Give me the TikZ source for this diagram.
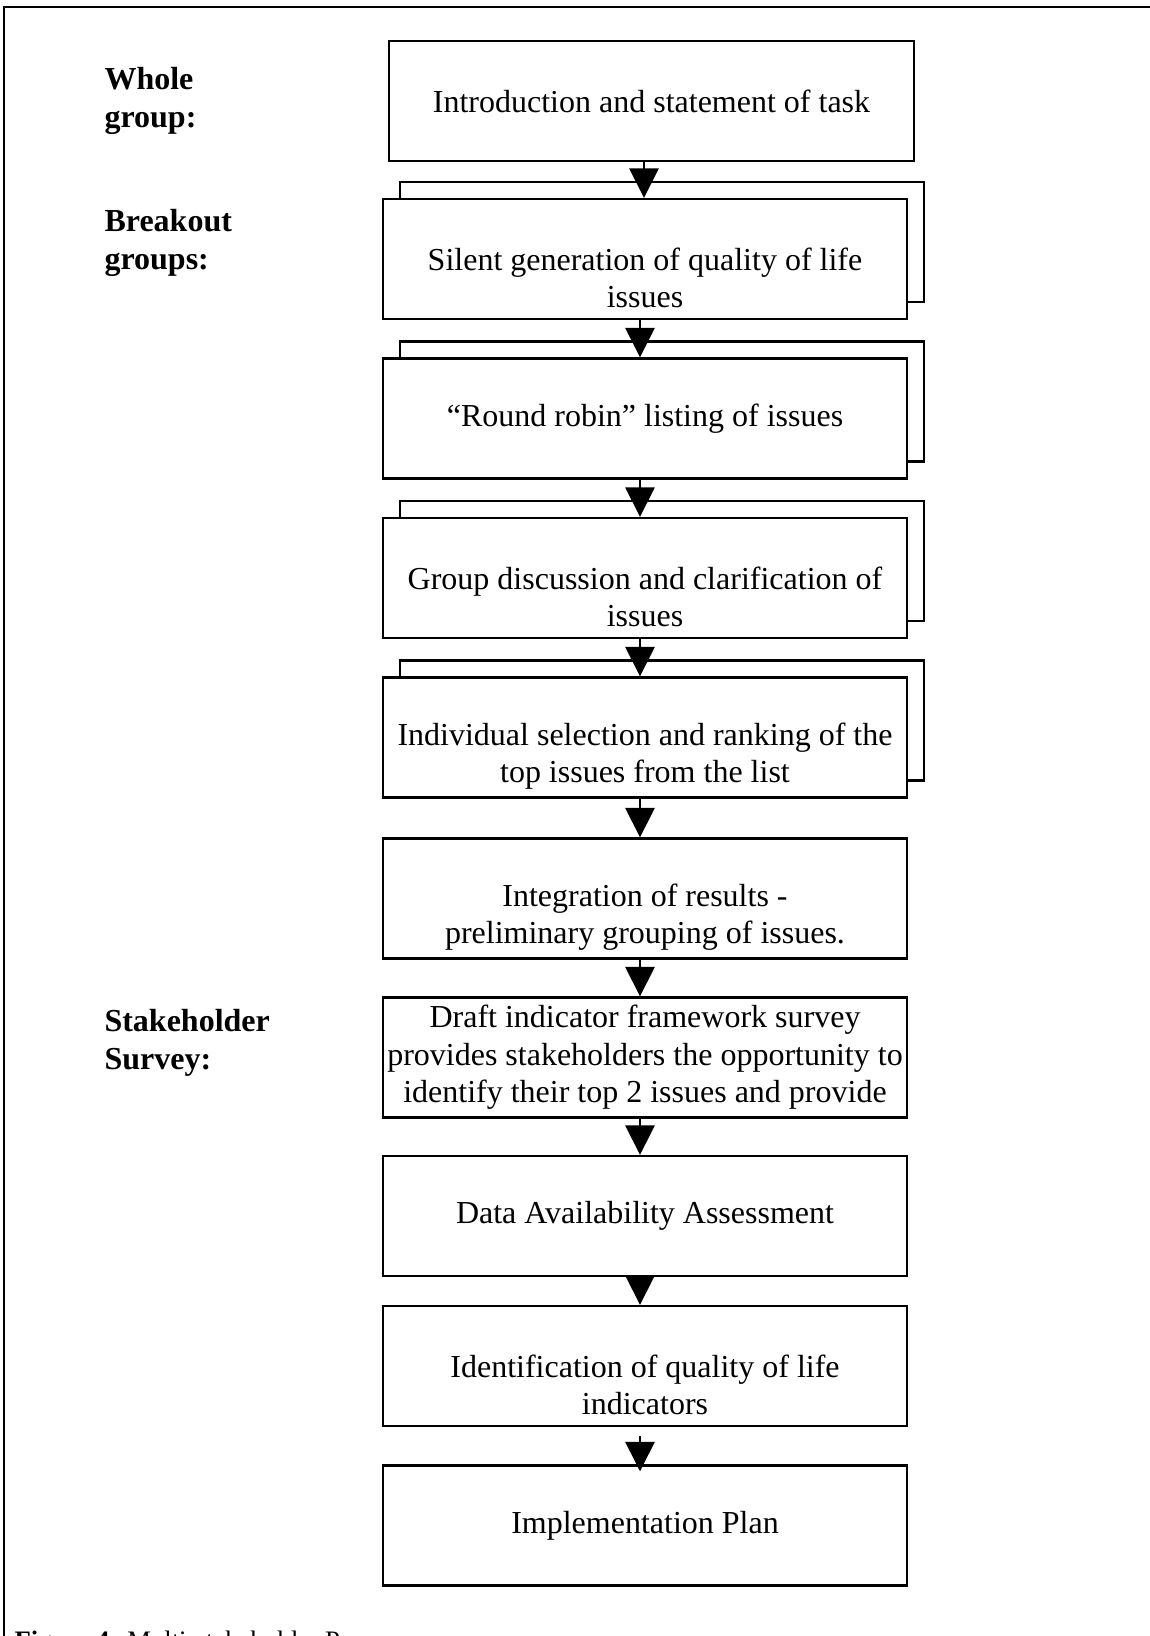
\documentclass[tikz,border=0pt]{standalone}
\usepackage{fontspec}
\setmainfont{Liberation Serif}
\usetikzlibrary{arrows.meta, positioning, backgrounds}
\tikzset{
	stepbox/.style={rectangle, draw=black, line width=0.9pt, fill=white, minimum width=196.5pt, minimum height=45pt, inner sep=0pt},
	steptext/.style={align=center, inner sep=0pt},
	lowtext/.style={steptext, yshift=-7pt},
	grouplabel/.style={anchor=west, align=left, inner sep=0pt, font=\fontsize{12pt}{14pt}\selectfont\bfseries},
	flowarrow/.style={-{Triangle[length=11pt, width=11pt]}, line width=0.6pt},
}

\begin{document}
\begin{tikzpicture}[x=0.375pt, y=-0.375pt, font=\fontsize{12pt}{14pt}\selectfont]
	\useasboundingbox (0,0) rectangle (1149,1636);
	% frame, cut off at the right and at the bottom
	\draw[line width=0.75pt] (4,1700) -- (4,7) -- (1200,7);
	% phase labels
	\node[grouplabel] (whole) at (104,101) {Whole\\group:};
	\node[grouplabel] (breakout) at (104,243) {Breakout\\groups:};
	\node[grouplabel] (survey) at (104,1043) {Stakeholder\\Survey:};
	% steps
	\node[stepbox, minimum width=197pt] (intro) at (651.5,101) {};
	\node[stepbox] (silent) at (645,259) {};
	\node[stepbox] (round) at (645,418.5) {};
	\node[stepbox] (group) at (645,578) {};
	\node[stepbox] (indiv) at (645,737.5) {};
	\node[stepbox] (integ) at (645,898.5) {};
	\node[stepbox] (draft) at (645,1057.5) {};
	\node[stepbox] (data) at (645,1216) {};
	\node[stepbox] (ident) at (645,1366) {};
	\node[stepbox] (impl) at (645,1525.5) {};
	% stacked copies behind the breakout steps
	\begin{scope}[on background layer]
		\foreach \s in {silent,round,group,indiv}
			\node[stepbox] (\s-b) at ([shift={(17,-17)}]\s.center) {};
	\end{scope}
	% texts
	\node[steptext] (intro-t) at (intro.center) {Introduction and statement of task};
	\node[lowtext] (silent-t) at (silent.center) {Silent generation of quality of life\\issues};
	\node[steptext] (round-t) at (round.center) {“Round robin” listing of issues};
	\node[lowtext] (group-t) at (group.center) {Group discussion and clarification of\\issues};
	\node[lowtext] (indiv-t) at (indiv.center) {Individual selection and ranking of the\\top issues from the list};
	\node[lowtext] (integ-t) at (integ.center) {Integration of results -\\preliminary grouping of issues.};
	\node[steptext] (draft-t) at (draft.center) {Draft indicator framework survey\\provides stakeholders the opportunity to\\identify their top 2 issues and provide};
	\node[steptext] (data-t) at (data.center) {Data Availability Assessment};
	\node[lowtext] (ident-t) at (ident.center) {Identification of quality of life\\indicators};
	\node[steptext] (impl-t) at (impl.center) {Implementation Plan};
	% arrows
	\coordinate (col0) at (644,0);
	\coordinate (col) at (640,0);
	\draw[flowarrow] (intro.south -| col0) -- (silent.north -| col0);
	\foreach \a/\b in {silent/round, round/group, group/indiv, indiv/integ, integ/draft, draft/data, data/ident}
		\draw[flowarrow] (\a.south -| col) -- (\b.north -| col);
	\draw[flowarrow, shorten <=3.4pt, shorten >=-2.6pt] (ident.south -| col) -- (impl.north -| col);
	% caption, cut off by the page edge
	\node[anchor=base west, inner sep=0pt, font=\fontsize{10pt}{12pt}\selectfont] (caption) at (14,1649) {\textbf{Figure 4:} Multi-stakeholder Process};
\end{tikzpicture}
\end{document}
